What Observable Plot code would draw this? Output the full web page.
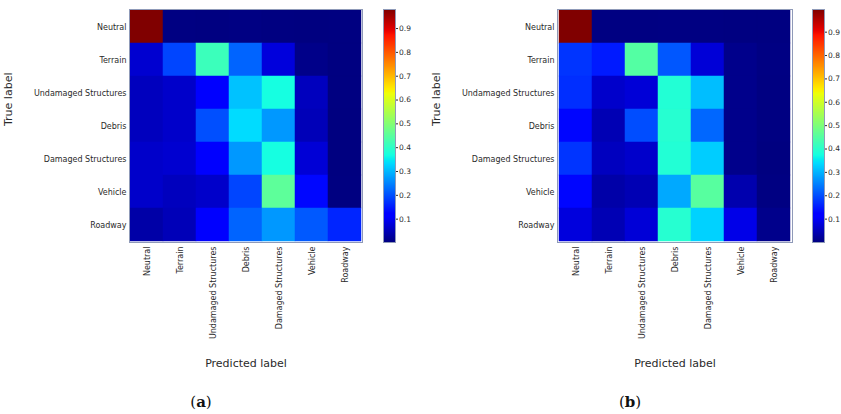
<!DOCTYPE html>
<html><head><meta charset="utf-8">
<script src="https://cdn.jsdelivr.net/npm/d3@7"></script>
<script src="https://cdn.jsdelivr.net/npm/@observablehq/plot@0.6"></script>
<style>
body{margin:0;background:#fff;}
#wrap{position:relative;width:841px;height:414px;overflow:hidden;font-family:"DejaVu Sans",sans-serif;background:#fff;}
#wrap > div, #wrap > svg{position:absolute;}
.cap{position:absolute;font-family:"DejaVu Serif","Liberation Serif",serif;font-size:15px;color:#111;transform:translate(-50%,-50%);white-space:nowrap;}
</style></head><body><div id="wrap"></div>
<script>
// ---- data ----
const classes = ["Neutral","Terrain","Undamaged Structures","Debris","Damaged Structures","Vehicle","Roadway"];
// rows = true label, columns = predicted label
const matrixA = [
  [0.98, 0.004, 0.003, 0.005, 0.003, 0.002, 0.003],
  [0.07, 0.19, 0.415, 0.22, 0.08, 0.01, 0.003],
  [0.055, 0.065, 0.12, 0.31, 0.37, 0.055, 0.003],
  [0.055, 0.065, 0.20, 0.335, 0.27, 0.05, 0.002],
  [0.065, 0.07, 0.12, 0.27, 0.37, 0.075, 0.002],
  [0.065, 0.055, 0.065, 0.19, 0.455, 0.13, 0.003],
  [0.035, 0.05, 0.12, 0.22, 0.27, 0.21, 0.16]
];
const matrixB = [
  [0.997, 0.002, 0.002, 0.003, 0.002, 0.001, 0.001],
  [0.175, 0.15, 0.45, 0.21, 0.075, 0.01, 0.003],
  [0.17, 0.065, 0.075, 0.39, 0.31, 0.01, 0.002],
  [0.13, 0.045, 0.20, 0.395, 0.225, 0.01, 0.002],
  [0.175, 0.055, 0.065, 0.39, 0.325, 0.01, 0.0],
  [0.13, 0.035, 0.045, 0.29, 0.455, 0.04, 0.002],
  [0.08, 0.045, 0.075, 0.395, 0.33, 0.09, 0.01]
];
const colorbarTicks = [0.1, 0.2, 0.3, 0.4, 0.5, 0.6, 0.7, 0.8, 0.9];
const xTitle = ["Predicted label"];
const yTitle = ["True label"];
const panelLabels = ["a", "b"];

// ---- matplotlib "jet" colormap ----
const jetSeg = {
  r: [[0,0],[0.35,0],[0.66,1],[0.89,1],[1,0.5]],
  g: [[0,0],[0.125,0],[0.375,1],[0.64,1],[0.91,0],[1,0]],
  b: [[0,0.5],[0.11,1],[0.34,1],[0.65,0],[1,0]]
};
function seg(pts, t) {
  t = Math.max(0, Math.min(1, t));
  for (let i = 1; i < pts.length; i++) {
    if (t <= pts[i][0]) {
      const [x0,y0] = pts[i-1], [x1,y1] = pts[i];
      return y0 + (y1 - y0) * (t - x0) / (x1 - x0);
    }
  }
  return pts[pts.length-1][1];
}
function jet(t) {
  const c = k => Math.round(255 * seg(jetSeg[k], t));
  return `rgb(${c("r")},${c("g")},${c("b")})`;
}

const wrap = document.getElementById("wrap");
const textColor = "#2a2a2a";
const frameColor = "#8f9ab8";

function matrixPlot(matrix, marginLeft, size, domain) {
  const cells = matrix.flatMap((row, i) => row.map((v, j) => ({truth: classes[i], pred: classes[j], v})));
  return Plot.plot({
    width: marginLeft + size + 10,
    height: 9 + 233 + 140,
    marginLeft, marginTop: 9, marginRight: 10, marginBottom: 140,
    style: {fontFamily: "DejaVu Sans", fontSize: "8px", color: textColor, background: "transparent", overflow: "visible"},
    x: {domain: classes, padding: 0, label: null},
    y: {domain: classes, padding: 0, label: null},
    color: {type: "linear", domain, interpolate: jet},
    marks: [
      Plot.cell(cells, {x: "pred", y: "truth", fill: "v", stroke: "v", strokeWidth: 0.5}),
      Plot.frame({stroke: frameColor, strokeWidth: 1}),
      Plot.axisX({tickRotate: -90, tickSize: 0, tickPadding: 4, label: null, fontSize: 8}),
      Plot.axisY({tickSize: 0, tickPadding: 3, label: null, fontSize: 8}),
      Plot.text(xTitle, {text: d => d, frameAnchor: "bottom", dy: 124, fontSize: 11, fill: textColor}),
      Plot.text(yTitle, {text: d => d, frameAnchor: "left", dx: -121.5, rotate: -90, fontSize: 11, fill: textColor})
    ]
  });
}

function colorbar(domain) {
  return Plot.plot({
    width: 12 + 30, height: 9 + 233 + 10,
    marginLeft: 0, marginRight: 30, marginTop: 9, marginBottom: 10,
    style: {fontFamily: "DejaVu Sans", fontSize: "7.5px", color: textColor, background: "transparent", overflow: "visible"},
    x: {domain: [0, 1], axis: null},
    y: {domain, axis: null},
    color: {type: "linear", domain, interpolate: jet},
    marks: [
      Plot.raster({fill: (x, y) => y, x1: 0, x2: 1, y1: domain[0], y2: domain[1], width: 1, height: 300, imageRendering: "auto"}),
      Plot.frame({stroke: frameColor, strokeWidth: 1}),
      Plot.axisY({anchor: "right", ticks: colorbarTicks, tickFormat: d => d.toFixed(1), tickSize: 2, tickPadding: 1.5, label: null, fontSize: 7.5})
    ]
  });
}

function place(el, left, top) {
  el.style.position = "absolute";
  el.style.left = left + "px";
  el.style.top = top + "px";
  wrap.appendChild(el);
}

const domA = d3.extent(matrixA.flat());
const domB = d3.extent(matrixB.flat());

place(matrixPlot(matrixA, 129, 233, domA), 0, 0);
place(colorbar(domA), 383, 0);
place(matrixPlot(matrixB, 137, 235, domB), 420, 0);
place(colorbar(domB), 812, 0);

[[201, 402], [630, 402]].forEach(([x, y], i) => {
  const d = document.createElement("div");
  d.className = "cap";
  d.innerHTML = `(<b>${panelLabels[i]}</b>)`;
  d.style.left = x + "px";
  d.style.top = y + "px";
  wrap.appendChild(d);
});
</script>
</body></html>
